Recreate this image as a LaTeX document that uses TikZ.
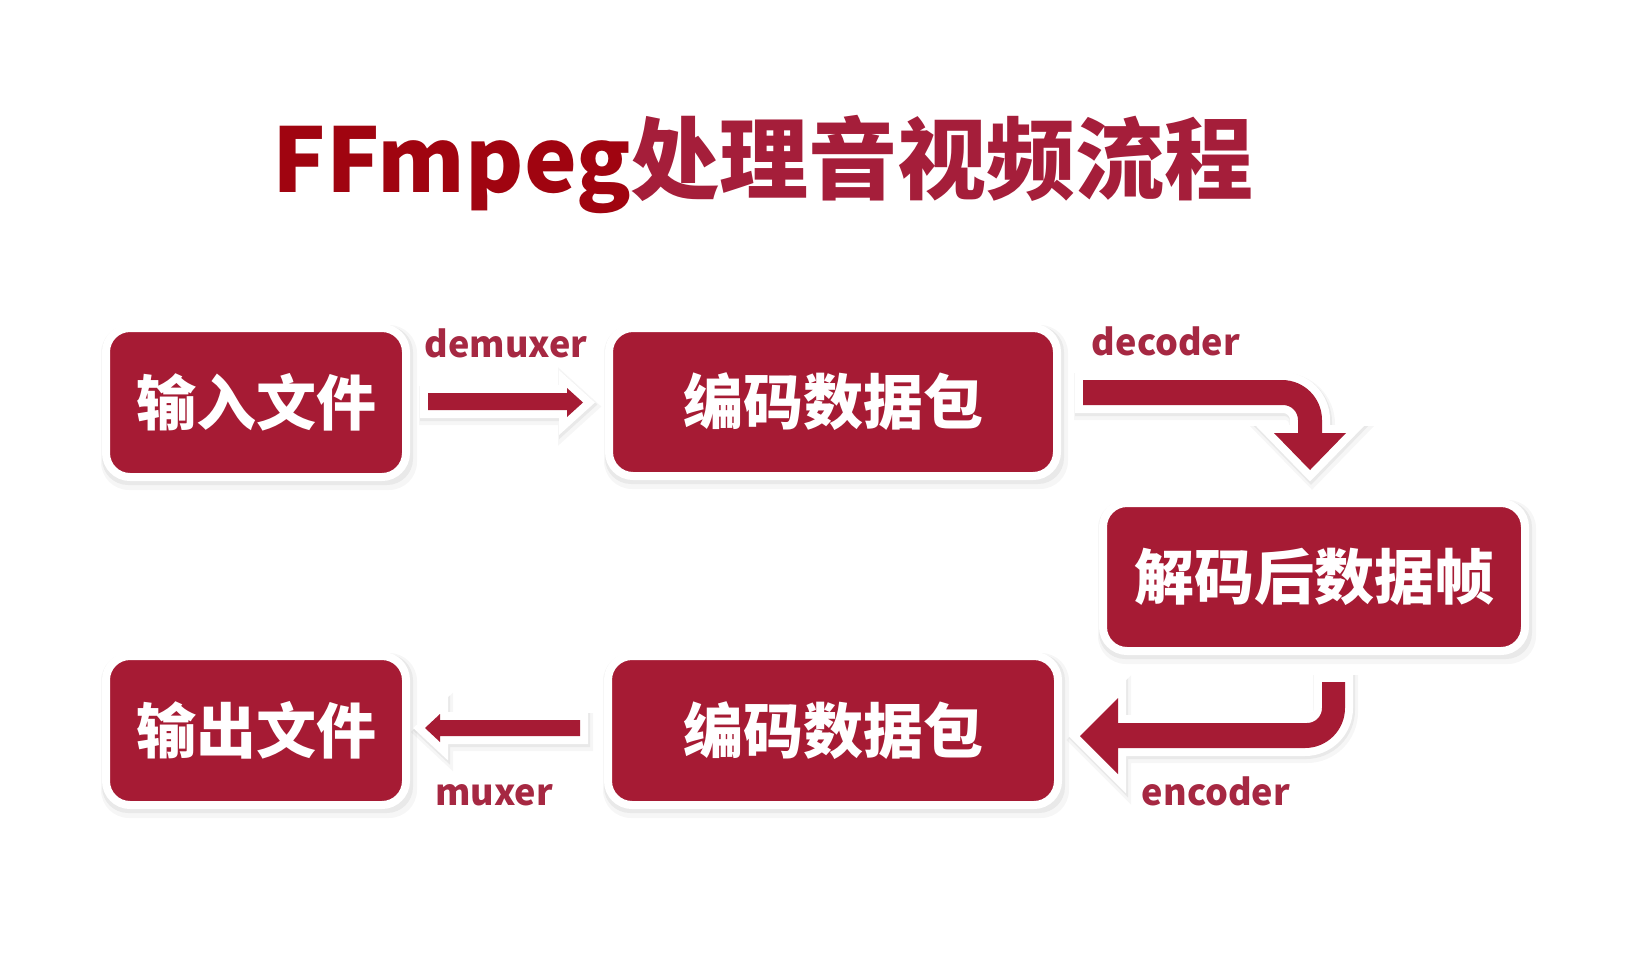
\documentclass[tikz,border=0pt]{standalone}
\usepackage{fontspec}
\newfontfamily\cjk{Noto Sans CJK SC}
\definecolor{boxred}{RGB}{166,27,52}
\definecolor{titlered}{RGB}{160,4,16}
\definecolor{titlecjk}{RGB}{165,30,58}
\definecolor{lblred}{RGB}{166,40,66}
\pgfdeclarelayer{bg}
\pgfdeclarelayer{shade}
\pgfsetlayers{bg,shade,main}
\newcommand\blockarrow[1]{%
  \path[arrshadowA] #1;
  \path[arrshadowB] #1;
  \path[arrwhite] #1;
  \path[fill=boxred] #1;}
\begin{document}
\begin{tikzpicture}[x=0.5pt,y=-0.5pt,
  box/.style={draw=white, line width=4pt, fill=boxred, rounded corners=12pt,
    inner sep=0pt, text=white, font=\cjk\bfseries\fontsize{30}{34}\selectfont},
  lbl/.style={text=lblred, font=\cjk\bfseries\fontsize{18}{22}\selectfont,
    inner sep=0pt, anchor=base},
  arrshadowA/.style={draw=black, opacity=0.035, line width=11pt, line join=miter, shift={(2,4)}},
  arrshadowB/.style={draw=black, opacity=0.05, line width=9pt, line join=miter, shift={(1,2)}},
  arrwhite/.style={draw=white, line width=8pt, line join=miter, miter limit=10},
  shadeA/.style={fill=black, opacity=0.035, rounded corners=14pt},
  shadeB/.style={fill=black, opacity=0.05, rounded corners=13pt},
]
\begin{pgfonlayer}{bg}
  \fill[white] (0,0) rectangle (1640,960);
\end{pgfonlayer}
\useasboundingbox (0,0) rectangle (1640,960);

% title
\node (title) [anchor=base, inner sep=0pt] at (763,192)
  {\cjk\bfseries\fontsize{44.5}{50}\selectfont\color{titlered}FFmpeg\color{titlecjk}处理音视频流程};

% boxes
\node[box, minimum width=150pt, minimum height=74.5pt] (in)   at (256,402.5) {输入文件};
\node[box, minimum width=224pt, minimum height=74pt]   (pkt1) at (833,402)   {编码数据包};
\node[box, minimum width=211pt, minimum height=74pt]   (frm)  at (1314,577)  {解码后数据帧};
\node[box, minimum width=225pt, minimum height=74.5pt] (pkt2) at (833,730.5) {编码数据包};
\node[box, minimum width=150pt, minimum height=74.5pt] (out)  at (256,730.5) {输出文件};

\begin{pgfonlayer}{shade}
\foreach \n in {in,pkt1,frm,pkt2,out}{
  \fill[shadeA] ([shift={(-1,1)}]\n.north west) rectangle ([shift={(7,9)}]\n.south east);
  \fill[shadeB] ([shift={(0,2)}]\n.north west) rectangle ([shift={(3,4)}]\n.south east);
}
\end{pgfonlayer}

% demuxer arrow
\blockarrow{(428,393) -- (567,393) -- (567,388) -- (583,402.5) -- (567,417) -- (567,410) -- (428,410) -- cycle}
% decoder arrow
\blockarrow{(1083,380) -- (1282,380) .. controls (1304.1,380) and (1322,397.9) .. (1322,420)
  -- (1322,433) -- (1346,433) -- (1310,470) -- (1274,433) -- (1298,433) -- (1298,420)
  .. controls (1298,411.7) and (1291.3,405) .. (1283,405) -- (1083,405) -- cycle}
% encoder arrow
\blockarrow{(1322,682) -- (1345,682) -- (1345,708) .. controls (1345,730.1) and (1327.1,748) .. (1305,748)
  -- (1118,748) -- (1118,774) -- (1080,736) -- (1118,698) -- (1118,723) -- (1307,723)
  .. controls (1315.3,723) and (1322,716.3) .. (1322,708) -- cycle}
% muxer arrow
\blockarrow{(580,720) -- (440,720) -- (440,714) -- (425,728) -- (440,742) -- (440,736) -- (580,736) -- cycle}

% labels
\node[lbl] (ldemux) at (506,357)  {demuxer};
\node[lbl] (ldec)   at (1166,355) {decoder};
\node[lbl] (lenc)   at (1216,805) {encoder};
\node[lbl] (lmux)   at (494,805)  {muxer};
\end{tikzpicture}
\end{document}
